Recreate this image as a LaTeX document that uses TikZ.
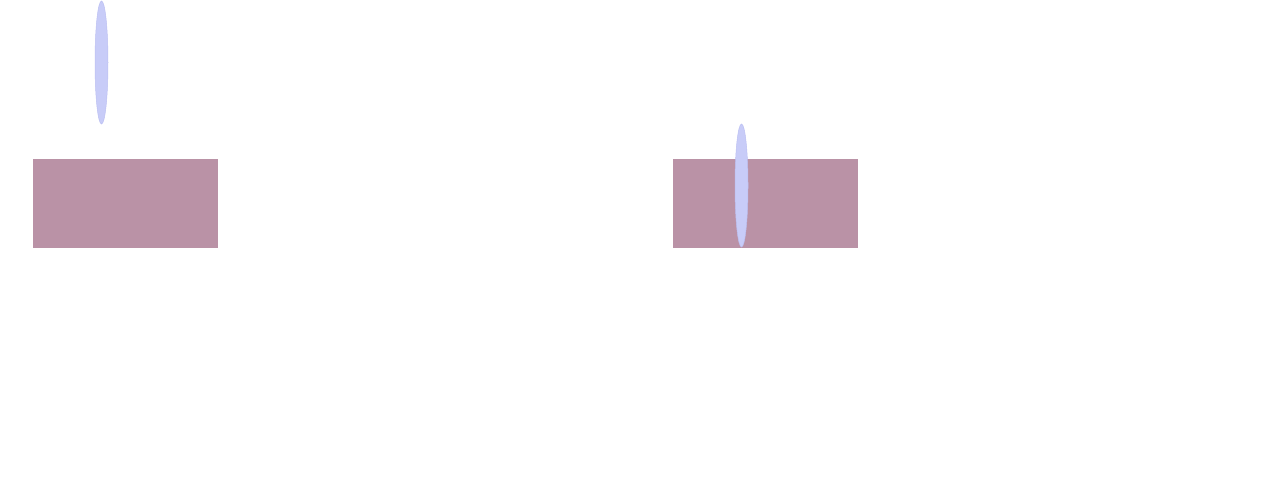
\documentclass[tikz,border=0pt]{standalone}
\usetikzlibrary{shapes.geometric}
\definecolor{boxc}{HTML}{BA92A6}
\definecolor{ellc}{HTML}{C8CCF8}
\definecolor{elld}{HTML}{BCC0F2}
\tikzset{
  boxnode/.style={rectangle, fill=boxc, draw=none, minimum width=185pt, minimum height=89pt, inner sep=0pt},
  ellnode/.style={ellipse, fill=ellc, draw=elld, line width=0.5pt, minimum width=13pt, minimum height=123pt, inner sep=0pt}
}
\begin{document}
\begin{tikzpicture}[x=1pt,y=-1pt]
\useasboundingbox (0,0) rectangle (1280,480);
\node[boxnode] (b1) at (125.5,203.5) {};
\node[boxnode] (b2) at (765.5,203.5) {};
\node[ellnode] (e1) at (101.5,62.5) {};
\node[ellnode] (e2) at (741.5,185.5) {};
\end{tikzpicture}
\end{document}
